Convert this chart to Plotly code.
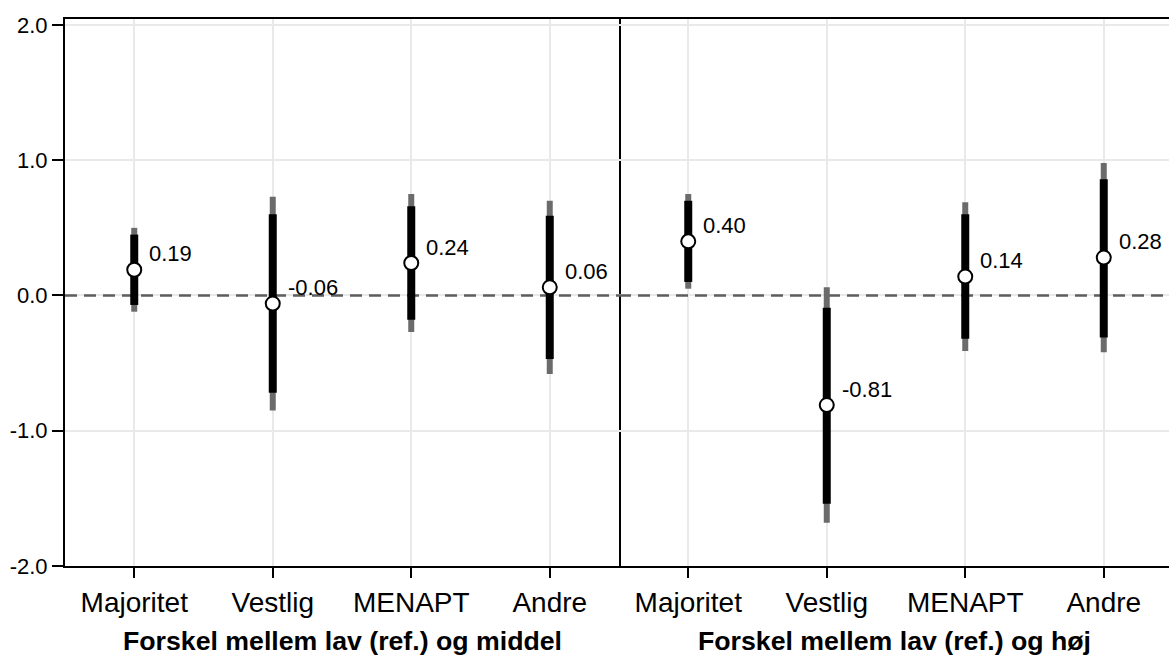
import plotly.graph_objects as go
from plotly.subplots import make_subplots

# Groups on the x axis (same in both panels)
categories = ["Majoritet", "Vestlig", "MENAPT", "Andre"]

# Panel 1: lav (ref.) vs middel
est_middel = [0.19, -0.06, 0.24, 0.06]
ci_inner_lo_middel = [-0.07, -0.72, -0.18, -0.47]
ci_inner_hi_middel = [0.45, 0.60, 0.66, 0.59]
ci_outer_lo_middel = [-0.12, -0.85, -0.27, -0.58]
ci_outer_hi_middel = [0.50, 0.73, 0.75, 0.70]

# Panel 2: lav (ref.) vs høj
est_hoj = [0.40, -0.81, 0.14, 0.28]
ci_inner_lo_hoj = [0.10, -1.54, -0.32, -0.31]
ci_inner_hi_hoj = [0.70, -0.09, 0.60, 0.86]
ci_outer_lo_hoj = [0.05, -1.68, -0.41, -0.42]
ci_outer_hi_hoj = [0.75, 0.06, 0.69, 0.98]

panel_titles = ["Forskel mellem lav (ref.) og middel", "Forskel mellem lav (ref.) og høj"]
y_ticks = [-2.0, -1.0, 0.0, 1.0, 2.0]
y_ticktext = ["-2.0", "-1.0", "0.0", "1.0", "2.0"]

FONT = "Liberation Sans, Arial, sans-serif"
W, H = 1169, 655
ML, MR, MT, MB = 65, 0, 19, 89
split = 554 / (W - ML - MR)
x_ranges = [[-0.5, 3.5], [-0.5, 3.471]]

fig = make_subplots(rows=1, cols=2, shared_yaxes=True, horizontal_spacing=0)

xpos = list(range(len(categories)))


def segments(xs, lo, hi):
    sx, sy = [], []
    for c, a, b in zip(xs, lo, hi):
        sx += [c, c, None]
        sy += [a, b, None]
    return sx, sy


panels = [
    (est_middel, ci_inner_lo_middel, ci_inner_hi_middel, ci_outer_lo_middel, ci_outer_hi_middel),
    (est_hoj, ci_inner_lo_hoj, ci_inner_hi_hoj, ci_outer_lo_hoj, ci_outer_hi_hoj),
]

for col, (est, ilo, ihi, olo, ohi) in enumerate(panels, start=1):
    # dashed reference line at zero
    fig.add_trace(go.Scatter(x=x_ranges[col - 1], y=[0, 0], mode="lines",
                             line=dict(color="#5e5e5e", width=2.5, dash="12px,7px"),
                             hoverinfo="skip", showlegend=False), row=1, col=col)
    ox, oy = segments(xpos, olo, ohi)
    fig.add_trace(go.Scatter(x=ox, y=oy, mode="lines",
                             line=dict(color="#6b6b6b", width=6),
                             hoverinfo="skip", showlegend=False), row=1, col=col)
    ix, iy = segments(xpos, ilo, ihi)
    fig.add_trace(go.Scatter(x=ix, y=iy, mode="lines",
                             line=dict(color="#000000", width=8),
                             hoverinfo="skip", showlegend=False), row=1, col=col)
    fig.add_trace(go.Scatter(x=xpos, y=est, mode="markers",
                             marker=dict(size=14, color="white",
                                         line=dict(color="black", width=2)),
                             showlegend=False), row=1, col=col)
    xref = "x" if col == 1 else "x2"
    for c, v in zip(xpos, est):
        fig.add_annotation(x=c, y=v, xref=xref, yref="y", text=f"{v:.2f}",
                           showarrow=False, xanchor="left", yanchor="middle",
                           xshift=13, yshift=16,
                           font=dict(family=FONT, size=22, color="black"))

# Panel titles below the tick labels
centers = [split / 2, (split + 1) / 2]
for cx, t in zip(centers, panel_titles):
    fig.add_annotation(x=cx, y=-(641 - (H - MB)) / (H - MT - MB), xref="paper", yref="paper",
                       text=f"<b>{t}</b>", showarrow=False,
                       xanchor="center", yanchor="middle",
                       font=dict(family=FONT, size=26.7, color="black"))

xaxis_common = dict(
    type="linear", tickvals=xpos, ticktext=categories,
    showgrid=True, gridcolor="#e9e9e9", gridwidth=1.5,
    showline=True, linecolor="black", linewidth=2, mirror=True,
    ticks="outside", ticklen=10, tickwidth=1.5, tickcolor="black",
    tickfont=dict(family=FONT, size=28, color="black"), zeroline=False,
)
fig.update_xaxes(**xaxis_common)
fig.update_xaxes(domain=[0, split], range=x_ranges[0], row=1, col=1)
fig.update_xaxes(domain=[split, 1], range=x_ranges[1], row=1, col=2)

fig.update_yaxes(range=[-2.0, 2.044], tickvals=y_ticks, ticktext=y_ticktext,
                 showgrid=True, gridcolor="#e9e9e9", gridwidth=1.5, zeroline=False,
                 tickfont=dict(family=FONT, size=22, color="black"))
fig.update_yaxes(showline=True, linecolor="black", linewidth=2, mirror=True,
                 ticks="outside", ticklen=11, tickwidth=1.5, tickcolor="black",
                 row=1, col=1)
fig.update_yaxes(showline=False, ticks="", showticklabels=False, row=1, col=2)

fig.update_layout(
    width=W, height=H,
    margin=dict(l=ML, r=MR, t=MT, b=MB, autoexpand=False),
    plot_bgcolor="white", paper_bgcolor="white",
    font=dict(family=FONT, color="black"),
    showlegend=False,
)

fig.write_html("out.html")
